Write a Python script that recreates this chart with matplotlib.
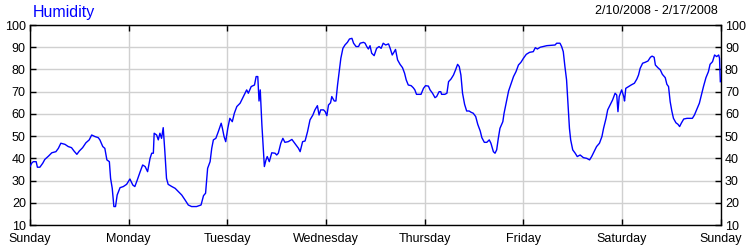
import numpy as np
import matplotlib
matplotlib.use('Agg')
import matplotlib.pyplot as plt

plt.rcParams['font.family'] = ['Liberation Sans', 'DejaVu Sans']

# hours since Sunday 0:00 and relative humidity (%)
hours = [0, 0.4, 0.8, 1.5, 1.8, 2.4, 3.1, 3.6, 4.5, 5.3, 6.3, 6.9, 7.5, 8.5, 9.3, 10.1,
         10.7, 11.4, 12, 12.8, 13.6, 14.4, 15, 15.8, 16.6, 17, 17.7, 18.2, 18.7, 19.3,
         19.6, 20, 20.4, 20.8, 21.2, 21.9, 22.7, 23.5, 24.3, 25, 25.5, 26.1, 26.8, 27.4,
         28, 28.6, 29.2, 29.6, 30, 30.2, 30.8, 31.2, 31.6, 32, 32.4, 32.8, 33.2, 33.6,
         34.5, 35.3, 36.1, 36.9, 37.7, 38.5, 39.3, 40.5, 41.6, 42.2, 42.7, 43.2, 43.8,
         44.2, 44.6, 45.2, 45.8, 46.5, 46.8, 47.2, 47.6, 48.1, 48.6, 49.2, 49.7, 50.3,
         51.1, 51.9, 52.7, 53.1, 53.8, 54.6, 55, 55.4, 55.7, 56, 56.4, 56.8, 57, 57.4,
         57.7, 58.2, 58.8, 59.6, 60, 60.4, 61, 61.5, 62, 62.8, 63.7, 64.1, 64.7, 65.3,
         65.7, 66.3, 66.9, 67.5, 68.1, 68.8, 69.3, 69.9, 70.3, 70.7, 71.4, 71.8, 72.2,
         72.6, 73.1, 73.4, 74, 74.4, 74.8, 75.3, 75.6, 76.1, 76.6, 77.2, 77.7, 78.3,
         78.7, 79.3, 79.9, 80.3, 81.1, 81.5, 81.9, 82.3, 82.7, 83.1, 83.7, 84.3, 84.9,
         85.4, 85.9, 86.5, 87.2, 87.6, 88.1, 88.6, 88.9, 89.4, 90, 90.6, 91.1, 91.5,
         92, 92.7, 93.2, 93.6, 94, 95.1, 95.7, 96.2, 96.9, 97.3, 97.9, 98.5, 98.9,
         99.5, 99.9, 100.1, 100.9, 101.4, 101.8, 102.4, 103, 103.5, 104, 104.4, 104.8,
         105.2, 105.7, 106.2, 106.8, 107.3, 107.8, 108.4, 108.9, 109.5, 109.9, 110.5,
         111.1, 111.7, 112.1, 112.7, 113.1, 113.5, 113.9, 114.3, 115, 115.3, 115.8,
         116.4, 116.9, 117.6, 118.2, 118.8, 119.4, 120, 120.7, 121.5, 122.4, 122.9,
         123.4, 124.1, 125.7, 127.7, 128.1, 128.9, 129.3, 129.7, 130.1, 130.5, 131,
         131.2, 131.5, 132, 132.6, 133.1, 133.8, 134.6, 135.4, 136.1, 136.6, 137.2,
         137.8, 138.5, 139.1, 139.5, 140.1, 140.5, 141.1, 141.7, 142.3, 142.7, 143,
         143.3, 143.9, 144.4, 144.6, 144.9, 145.6, 146.2, 147, 147.6, 148, 148.4, 149,
         149.6, 150.3, 150.9, 151.3, 151.8, 152.1, 152.7, 153.3, 153.8, 154.5, 154.9,
         155.3, 155.7, 156.1, 156.5, 157.1, 157.6, 158, 158.4, 159, 159.8, 161.1,
         161.6, 162.2, 162.8, 163.3, 163.8, 164.4, 165, 165.4, 166, 166.5, 167, 167.5,
         167.7, 167.9]
humidity = [36.3, 37.8, 38.5, 38.5, 36, 36, 37.8, 39.5, 41, 42.5, 43, 44.5, 46.8, 46.3,
            45.3, 44.8, 43.3, 41.8, 43.3, 44.8, 47, 48.3, 50.5, 49.8, 49.3, 48.3, 45.3,
            44.5, 39.3, 38.5, 31, 26.5, 18.3, 18.3, 23.5, 26.8, 27.3, 28.3, 30.7, 28,
            27.3, 30.3, 34, 37, 36.3, 34, 40, 42.3, 42.3, 51.3, 50.5, 48.3, 51.3, 49,
            53.8, 43, 31, 28.3, 27.3, 26.5, 25, 23.5, 21.3, 19, 18.3, 18.3, 19, 23.2,
            24.3, 35.5, 38.5, 44.5, 48.3, 49, 52, 55.8, 53.5, 49.8, 47.5, 53.5, 58, 56.5,
            60.3, 63.3, 64.8, 67.8, 70.8, 69.3, 72.3, 73, 76.8, 76.8, 65.8, 70.8, 55,
            43, 36.3, 39.3, 40.8, 38.5, 42.5, 42.3, 41.5, 42.3, 46.8, 49, 47.2, 47.5,
            48.5, 47.5, 46, 44.5, 43, 47.5, 47.8, 52, 57.3, 59.5, 61.8, 63.7, 59.5, 61.8,
            61.8, 61, 59.2, 64, 65, 67.8, 65.8, 65.8, 73, 80.5, 85, 89.5, 91, 92.2, 93.7,
            94, 91.8, 90.3, 90.3, 91.8, 92.2, 91.8, 90.3, 89.2, 90.7, 87.3, 86.2, 89.5,
            90.3, 89.5, 91.8, 91, 91.5, 89.5, 86.5, 88, 89, 84.3, 82.3, 80.8, 78.3, 75.3,
            73, 72.7, 71.8, 70.8, 68.8, 68.8, 71.5, 72.7, 72.5, 70.8, 69.3, 67.3, 67.8,
            70, 70, 68.8, 68.8, 69.3, 74.5, 75.7, 77.5, 79.8, 82.3, 81.3, 77.5, 69.3,
            64.3, 61.3, 61.3, 60.7, 60.3, 58.8, 55.3, 52.3, 49.3, 47.2, 47.2, 48.3, 46.8,
            43, 42.3, 43.8, 49, 53.5, 56.5, 60.3, 64.8, 70.3, 73, 76.8, 79, 82, 83.2, 85,
            86.8, 87.7, 88, 89.8, 89.2, 90, 90.7, 91, 91.8, 91.8, 90.3, 88, 81.3, 75.3,
            60.3, 53.5, 48.3, 43.8, 42.3, 40.8, 41.5, 40.3, 40, 39.3, 40.8, 43, 45.3,
            46.8, 49.8, 53.5, 58, 61.8, 64, 66.3, 69.3, 68.5, 61, 67.8, 70.8, 67.8, 65.8,
            71.5, 72.3, 73, 73.8, 75.7, 77.5, 80.5, 82.8, 83.2, 83.8, 85.5, 86, 85.5, 82,
            80.8, 79.8, 77.8, 76.3, 73.3, 72.3, 65.5, 61.3, 58, 56, 55.3, 54.3, 55.8,
            57.7, 58, 58, 59.5, 62.2, 64.8, 68.5, 72.3, 76.3, 79, 82.3, 83.5, 86.5, 85.8,
            86.5, 85, 74.5]

days = ['Sunday', 'Monday', 'Tuesday', 'Wednesday', 'Thursday', 'Friday', 'Saturday', 'Sunday']
day_ticks = [24 * i for i in range(len(days))]
y_ticks = list(range(10, 101, 10))

fig = plt.figure(figsize=(7.5, 2.5), dpi=100)
ax = fig.add_axes([0.04, 0.1, 0.921, 0.8])

ax.plot(hours, humidity, color='#0000ff', lw=1.0, zorder=3)

ax.set_xlim(0, 168)
ax.set_ylim(10, 100)
ax.set_xticks(day_ticks)
ax.set_xticklabels(days)
ax.set_yticks(y_ticks)
ax.grid(True, color='#d0d0d0', lw=1.0, zorder=0)
ax.set_axisbelow(True)

for s in ax.spines.values():
    s.set_color('black')
    s.set_linewidth(1.0)

ax.tick_params(axis='x', direction='in', length=4, width=1, top=True, bottom=True,
               labelsize=9, pad=6, colors='black')
ax.tick_params(axis='y', direction='in', length=4, width=1, left=True, right=True,
               labelleft=True, labelright=True, labelsize=9, pad=3, colors='black')

fig.text(33 / 750, 1 - 13 / 250, 'Humidity', color='#0000ff', fontsize=11.5,
         ha='left', va='center')
fig.text(718 / 750, 1 - 11 / 250, '2/10/2008 - 2/17/2008', color='black', fontsize=9,
         ha='right', va='center')

fig.savefig('out.png', dpi=100)
